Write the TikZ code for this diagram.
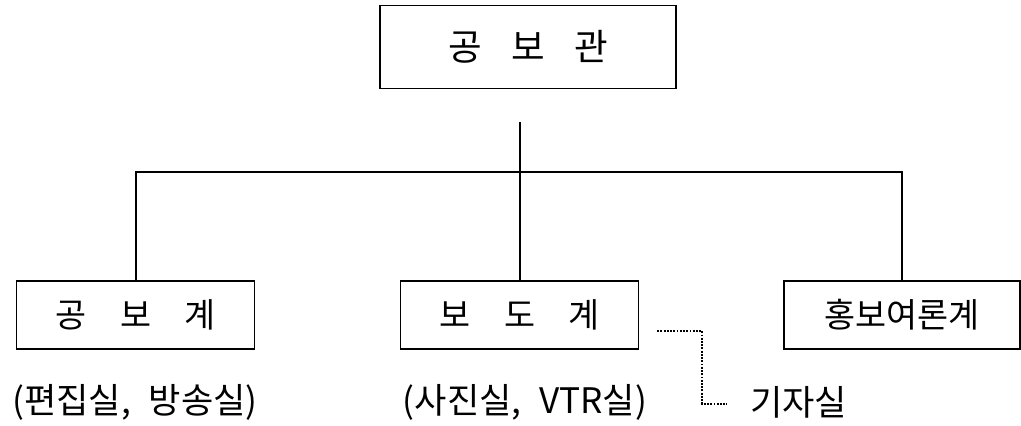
\documentclass[tikz,border=0pt]{standalone}
\usepackage{fontspec}
\usepackage{tikz}
\usetikzlibrary{positioning, calc}
\newfontfamily\kr{Noto Sans CJK KR}

\begin{document}
\begin{tikzpicture}[
    box/.style={rectangle, draw, line width=1.1pt, minimum width=5.95cm, minimum height=1.7cm, font=\kr\fontsize{24}{28}\selectfont},
    lbl/.style={font=\kr\fontsize{25}{30}\selectfont, inner sep=0pt},
    link/.style={line width=1.4pt}
]
\useasboundingbox (0,0) rectangle (25.525,-10.625);

\node[box, minimum width=7.4cm, minimum height=2.075cm, font=\kr\fontsize{26}{30}\selectfont] (top) at (13.2,-1.175) {공\hspace{0.8em}보\hspace{0.8em}관};

\node[box] (gb) at (3.39,-7.875) {공\quad 보\quad 계};
\node[box] (bd) at (12.99,-7.875) {보\quad 도\quad 계};
\node[box, minimum width=5.9cm] (hr) at (22.55,-7.875) {홍보여론계};

\node[lbl] (gbsub) at (3.375,-10.05) {(편집실,\hspace{0.5em}방송실)};
\node[lbl] (bdsub) at (13.125,-10.05) {(사진실,\hspace{0.5em}VTR실)};
\node[lbl, anchor=west] (gj) at (18.75,-10.05) {기자실};

\coordinate (hub) at (12.99,-3.05);
\coordinate (bus) at (12.99,-4.3);
\draw[link] (hub) -- (bd.north);
\draw[link] (gb.north) |- (bus) -| (hr.north);

\coordinate (dstart) at (16.43,-8.275);
\coordinate (dend) at (18.175,-10.1);
\draw[densely dotted, line width=1.3pt] (dstart) -- ++(1.125,0) |- (dend);
\end{tikzpicture}
\end{document}
